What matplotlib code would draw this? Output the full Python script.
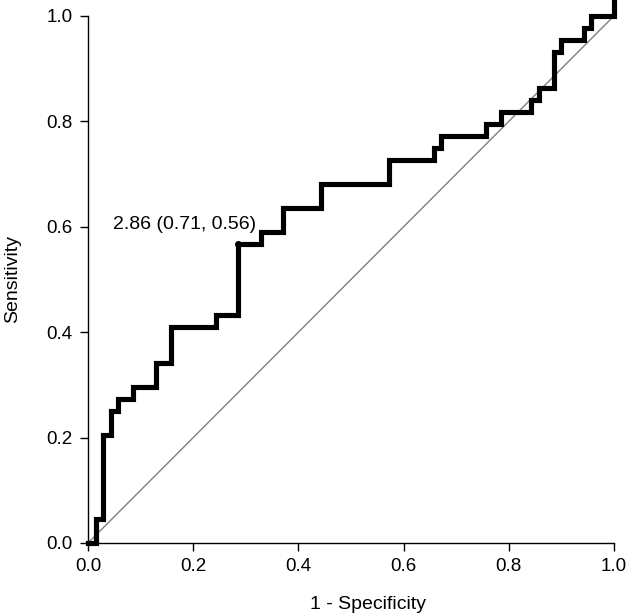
import matplotlib
matplotlib.use('Agg')
import matplotlib.pyplot as plt
import numpy as np

plt.rcParams['font.family'] = ['Liberation Sans', 'DejaVu Sans']

# ROC step corners (1 - specificity, sensitivity)
fpr = [0.0, 0.0143, 0.0286, 0.0429, 0.0571, 0.0857, 0.1286, 0.1571, 0.2429,
       0.2857, 0.3286, 0.3714, 0.4429, 0.5714, 0.6571, 0.6714, 0.7571,
       0.7857, 0.8429, 0.8571, 0.8857, 0.9, 0.9429, 0.9571, 1.0]
tpr = [0.0, 0.0455, 0.2045, 0.25, 0.2727, 0.2955, 0.3409, 0.4091, 0.4318,
       0.5682, 0.5909, 0.6364, 0.6818, 0.7273, 0.75, 0.7727, 0.7955,
       0.8182, 0.8409, 0.8636, 0.9318, 0.9545, 0.9773, 1.0, 1.035]

best_fpr = 0.2857
best_tpr = 0.5682
best_label = '2.86 (0.71, 0.56)'

ticks = [0.0, 0.2, 0.4, 0.6, 0.8, 1.0]

fig = plt.figure(figsize=(6.3, 6.15), dpi=100)
ax = fig.add_axes([0.1397, 0.1171, 0.8349, 0.857])

# chance line
ax.plot([0, 1], [0, 1], color='#808080', lw=1.0, zorder=1)
# roc curve
ax.plot(fpr, tpr, drawstyle='steps-post', color='black', lw=3.7,
        solid_joinstyle='miter', clip_on=False, zorder=3)
ax.plot([best_fpr], [best_tpr], 'o', color='black', ms=4, zorder=4)
ax.annotate(best_label, (best_fpr, best_tpr), xytext=(12.7, 10.4),
            textcoords='offset points', ha='right', va='baseline', fontsize=14)

ax.set_xlim(0, 1)
ax.set_ylim(0, 1)
ax.set_xticks(ticks)
ax.set_yticks(ticks)
ax.set_xticklabels(['%.1f' % t for t in ticks])
ax.set_yticklabels(['%.1f' % t for t in ticks])
ax.tick_params(direction='out', length=6, width=1, labelsize=13.5, pad=5)
for s in ['top', 'right']:
    ax.spines[s].set_visible(False)
for s in ['left', 'bottom']:
    ax.spines[s].set_linewidth(1)

ax.set_xlabel('1 - Specificity', fontsize=14)
ax.xaxis.set_label_coords(0.532, -0.125)
ax.xaxis.label.set_va('baseline')
ax.set_ylabel('Sensitivity', fontsize=14, labelpad=18)

plt.savefig('out.png', dpi=100)
plt.close()
